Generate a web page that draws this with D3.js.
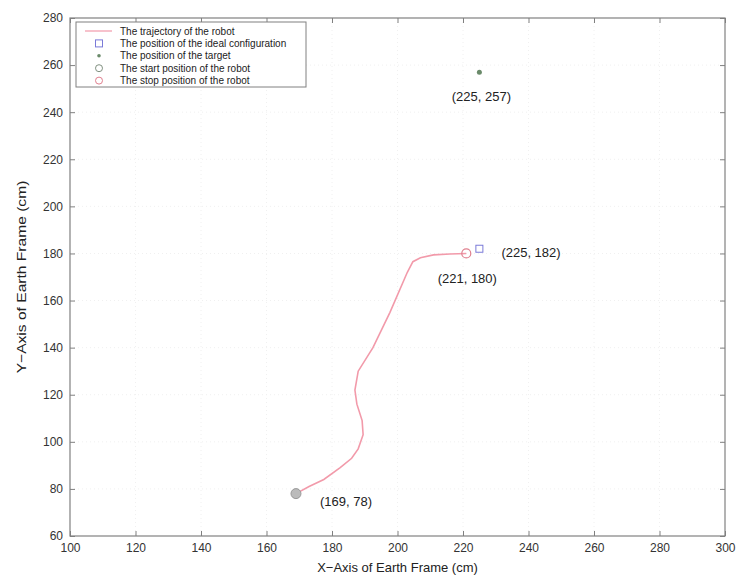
<!DOCTYPE html>
<html><head><meta charset="utf-8">
<script src="https://cdn.jsdelivr.net/npm/d3@7"></script>
<style>body{margin:0;background:#fff}svg{display:block}text{font-family:"Liberation Sans",Arial,sans-serif}</style>
</head><body><svg id="c" width="738" height="578"></svg>
<script>
const trajX = [169,173,177.5,182.5,186,188,189.5,189.2,187.6,187,188,192.5,197.7,203,204.7,207,211,216,221];
const trajY = [78,81,84,89,93,97,103,109,116,122,130,140,155,172,176.5,178.2,179.4,179.8,180];
const idealPos = [225,182];
const targetPos = [225,257];
const startPos = [169,78];
const stopPos = [221,180];
const xTicks = [100,120,140,160,180,200,220,240,260,280,300];
const yTicks = [60,80,100,120,140,160,180,200,220,240,260,280];
const legendLabels = ["The trajectory of the robot","The position of the ideal configuration","The position of the target","The start position of the robot","The stop position of the robot"];

const svg = d3.select("#c");
const L=70,R=725,T=18,B=536;
const x = d3.scaleLinear().domain([100,300]).range([L,R]);
const y = d3.scaleLinear().domain([60,280]).range([B,T]);
const axisCol="#808080";

// faint grid
const g = svg.append("g");
g.selectAll(".gy").data(yTicks.slice(1,-1)).join("line")
 .attr("x1",L).attr("x2",R).attr("y1",d=>y(d)).attr("y2",d=>y(d))
 .attr("stroke","#f0f0f0").attr("stroke-dasharray","1,3");
g.selectAll(".gx").data(xTicks.slice(1,-1)).join("line")
 .attr("y1",T).attr("y2",B).attr("x1",d=>x(d)).attr("x2",d=>x(d))
 .attr("stroke","#f0f0f0").attr("stroke-dasharray","1,3");

function styleAxis(sel){
  sel.selectAll(".domain").remove();
  sel.selectAll(".tick line").attr("stroke",axisCol);
  sel.selectAll(".tick text").attr("fill","#333").style("font-size","12px");
}
svg.append("g").attr("transform",`translate(0,${B})`)
 .call(d3.axisBottom(x).tickValues(xTicks).tickSize(-5).tickPadding(7)).call(styleAxis);
svg.append("g").attr("transform",`translate(0,${T})`)
 .call(d3.axisTop(x).tickValues(xTicks).tickSize(-5).tickFormat("")).call(styleAxis);
svg.append("g").attr("transform",`translate(${L},0)`)
 .call(d3.axisLeft(y).tickValues(yTicks).tickSize(-5).tickPadding(7)).call(styleAxis);
svg.append("g").attr("transform",`translate(${R},0)`)
 .call(d3.axisRight(y).tickValues(yTicks).tickSize(-5).tickFormat("")).call(styleAxis);
svg.append("rect").attr("x",L).attr("y",T).attr("width",R-L).attr("height",B-T)
 .attr("fill","none").attr("stroke",axisCol).attr("stroke-width",1.2);

// trajectory
const pts = trajX.map((d,i)=>[d,trajY[i]]);
svg.append("path").datum(pts)
 .attr("d",d3.line().x(d=>x(d[0])).y(d=>y(d[1])))
 .attr("fill","none").attr("stroke","#f29aaa").attr("stroke-width",1.6);

// markers
svg.append("rect").attr("x",x(idealPos[0])-3.5).attr("y",y(idealPos[1])-3.5).attr("width",7).attr("height",7)
 .attr("fill","none").attr("stroke","#7a7ad8").attr("stroke-width",1);
svg.append("circle").attr("cx",x(targetPos[0])).attr("cy",y(targetPos[1])).attr("r",2.5)
 .attr("fill","#6a8a6a");
svg.append("circle").attr("cx",x(startPos[0])).attr("cy",y(startPos[1])).attr("r",5)
 .attr("fill","#bbbbbb").attr("stroke","#999").attr("stroke-width",1);
svg.append("circle").attr("cx",x(stopPos[0])).attr("cy",y(stopPos[1])).attr("r",4.5)
 .attr("fill","none").attr("stroke","#e0808f").attr("stroke-width",1.2);

// point labels
const lab = (t,px,py,anchor)=>svg.append("text").attr("x",px).attr("y",py).attr("text-anchor",anchor)
 .style("font-size","13px").attr("fill","#222").text(t);
lab(`(${targetPos[0]}, ${targetPos[1]})`, x(targetPos[0])+2, y(targetPos[1])+29, "middle");
lab(`(${idealPos[0]}, ${idealPos[1]})`, x(idealPos[0])+22, y(idealPos[1])+8, "start");
lab(`(${stopPos[0]}, ${stopPos[1]})`, x(stopPos[0])+1, y(stopPos[1])+30, "middle");
lab(`(${startPos[0]}, ${startPos[1]})`, x(startPos[0])+24, y(startPos[1])+12, "start");

// axis titles
svg.append("text").attr("x",(L+R)/2).attr("y",572).attr("text-anchor","middle")
 .style("font-size","13px").attr("fill","#222").text("X\u2212Axis of Earth Frame  (cm)");
svg.append("text").attr("transform",`translate(26,${(T+B)/2}) rotate(-90) scale(1.2,1)`).attr("text-anchor","middle")
 .style("font-size","13px").attr("fill","#222").text("Y\u2212Axis of Earth Frame  (cm)");

// legend
const lg = svg.append("g");
lg.append("rect").attr("x",76).attr("y",22).attr("width",230).attr("height",65)
 .attr("fill","#fff").attr("stroke",axisCol).attr("stroke-width",1);
const rowY = i=>31+i*12.4;
legendLabels.forEach((t,i)=>{
  lg.append("text").attr("x",120).attr("y",rowY(i)+3.5).style("font-size","10px").attr("fill","#222").text(t);
});
lg.append("line").attr("x1",85).attr("x2",112).attr("y1",rowY(0)).attr("y2",rowY(0)).attr("stroke","#f29aaa").attr("stroke-width",1.2);
lg.append("rect").attr("x",95.5).attr("y",rowY(1)-3.5).attr("width",7).attr("height",7).attr("fill","none").attr("stroke","#7a7ad8");
lg.append("circle").attr("cx",99).attr("cy",rowY(2)).attr("r",1.8).attr("fill","#6a8a6a");
lg.append("circle").attr("cx",99).attr("cy",rowY(3)).attr("r",3.5).attr("fill","none").attr("stroke","#809080");
lg.append("circle").attr("cx",99).attr("cy",rowY(4)).attr("r",3.5).attr("fill","none").attr("stroke","#e0808f");
</script></body></html>
